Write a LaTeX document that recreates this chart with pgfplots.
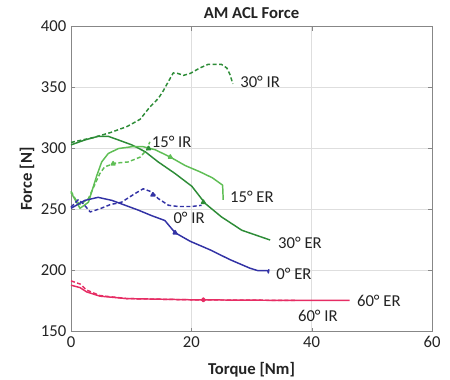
\documentclass[border=0pt]{standalone}
\usepackage{pgfplots}
\pgfplotsset{compat=1.18}
\usepackage{fontspec}
\setmainfont{Carlito}
\definecolor{dkgreen}{RGB}{45,140,55}
\definecolor{ltgreen}{RGB}{95,190,85}
\definecolor{myblue}{RGB}{50,50,165}
\definecolor{mypink}{RGB}{230,45,100}
\definecolor{gridc}{RGB}{222,222,222}
\definecolor{axc}{RGB}{135,135,135}
\definecolor{txt}{RGB}{35,35,35}
\begin{document}
\begin{tikzpicture}
\begin{axis}[
  at={(0,0)}, anchor=south west,
  scale only axis, width=270.75pt, height=228.75pt,
  xmin=0, xmax=60, ymin=150, ymax=400,
  xtick={0,20,40,60}, ytick={150,200,250,300,350,400},
  grid=major, major grid style={gridc, line width=0.6pt},
  axis line style={axc, line width=0.7pt},
  tick style={axc}, major tick length=3pt,
  /pgf/number format/assume math mode=true,
  every tick label/.append style={font=\fontsize{12.5}{15}\selectfont, text=txt},
  xlabel={\textbf{Torque [Nm]}},
  xlabel style={at={(axis description cs:0.5,-0.1255)}, anchor=center, yshift=0pt, font=\fontsize{12.5}{15}\selectfont, text=txt},
  ylabel={\textbf{Force [N]}},
  ylabel style={at={(axis description cs:-0.122,0.5)}, anchor=center, font=\fontsize{12.5}{15}\selectfont, text=txt},
  clip=false,
  every axis plot/.append style={line width=1.1pt, line join=round},
]
% 30 deg IR (dashed)
\addplot[dkgreen, dash pattern=on 3pt off 1.8pt] coordinates {(0,305) (3.7,309) (6.5,313) (9.3,318) (11.5,324) (13.1,334) (14.5,341) (15.3,347) (16.2,355) (17.0,362) (17.8,361.5) (18.7,360) (19.8,361.5) (21.4,366) (22.8,369) (25.0,369) (25.9,366) (26.4,361) (26.9,353)};
% 30 deg ER
\addplot[dkgreen] coordinates {(0,303) (2.3,307) (4.5,310) (6.2,310) (7.9,307) (10.1,303) (12.3,297.5) (14.5,289) (17.3,279.5) (20.1,269) (22.3,255) (25.0,244) (28.4,233) (33.1,225)};
% 15 deg ER
\addplot[ltgreen] coordinates {(0,264) (0.8,257) (1.5,251) (2.9,256) (4.3,278) (5.1,289) (6.2,296) (7.9,300) (10.1,301.5) (12,301.5) (14,299) (16.5,293) (19,286) (21.4,281) (23.5,276) (25.2,270) (25.3,258)};
% 15 deg IR (dashed)
\addplot[ltgreen, dash pattern=on 3pt off 1.8pt] coordinates {(0,265) (0.8,258) (1.5,254) (2.9,259) (4.0,271) (4.8,279.5) (5.6,285) (7.3,288) (9.5,289) (11.5,293) (12.6,299) (13.1,305.5)};
% 0 deg IR (dashed)
\addplot[myblue, dash pattern=on 3pt off 1.8pt] coordinates {(0,252) (1.2,258) (2,255) (3.2,248) (5,251) (6.5,254) (8.4,256) (10.6,263) (12.0,267) (13.4,264.5) (14.5,259) (16.2,253.5) (17.8,252.5) (20.1,252.5) (21.7,253.5)};
% 0 deg ER
\addplot[myblue] coordinates {(0,251) (2.3,257.5) (4.5,260) (6.8,257.5) (9,253.5) (11.2,249.5) (13.4,245) (15.6,241) (17.3,231) (19.8,224) (23.1,217) (26.4,209) (29.7,202) (31,200) (32.7,200) (32.8,198) (32.9,201)};
% 60 deg ER
\addplot[mypink] coordinates {(0,188) (1.5,186) (2.6,182.5) (4.8,179) (9.3,177) (20.3,176) (36.9,175.5) (46.3,175.5)};
% 60 deg IR (dashed)
\addplot[mypink, dash pattern=on 3pt off 1.8pt] coordinates {(0,191.5) (1.5,189) (2.6,184) (4.8,179.5) (9.3,177) (20.3,176) (37.5,175.5)};
% small markers along curves
\addplot[only marks, mark=triangle*, mark size=1.6pt, myblue] coordinates {(17.3,231) (13.6,262)};
\addplot[only marks, mark=triangle*, mark size=1.6pt, ltgreen] coordinates {(16.5,293) (7.0,287.5)};
\addplot[only marks, mark=triangle*, mark size=1.6pt, dkgreen] coordinates {(22,256) (12.9,300)};
\addplot[only marks, mark=*, mark size=1.4pt, mypink] coordinates {(22,176)};
% title
\node[anchor=center, inner sep=0pt, text=txt, font=\fontsize{12.5}{15}\selectfont\bfseries] at (rel axis cs:0.5,1.043) {AM ACL Force};
% curve labels
\begin{scope}[every node/.style={anchor=west, inner sep=0pt, text=txt, font=\fontsize{12.5}{15}\selectfont}]
\node at (axis cs:28.1,354.8) {30° IR};
\node at (axis cs:13.4,305.7) {15° IR};
\node at (axis cs:26.4,260.7) {15° ER};
\node at (axis cs:17.0,243) {0° IR};
\node at (axis cs:34.4,222.6) {30° ER};
\node at (axis cs:34.1,197.5) {0° ER};
\node at (axis cs:47.5,175.4) {60° ER};
\node at (axis cs:37.7,163) {60° IR};
\end{scope}
\end{axis}
\pgfresetboundingbox
\path[use as bounding box] (-53.25pt,-36.2pt) rectangle (284.25pt,248.65pt);
\end{tikzpicture}
\end{document}
